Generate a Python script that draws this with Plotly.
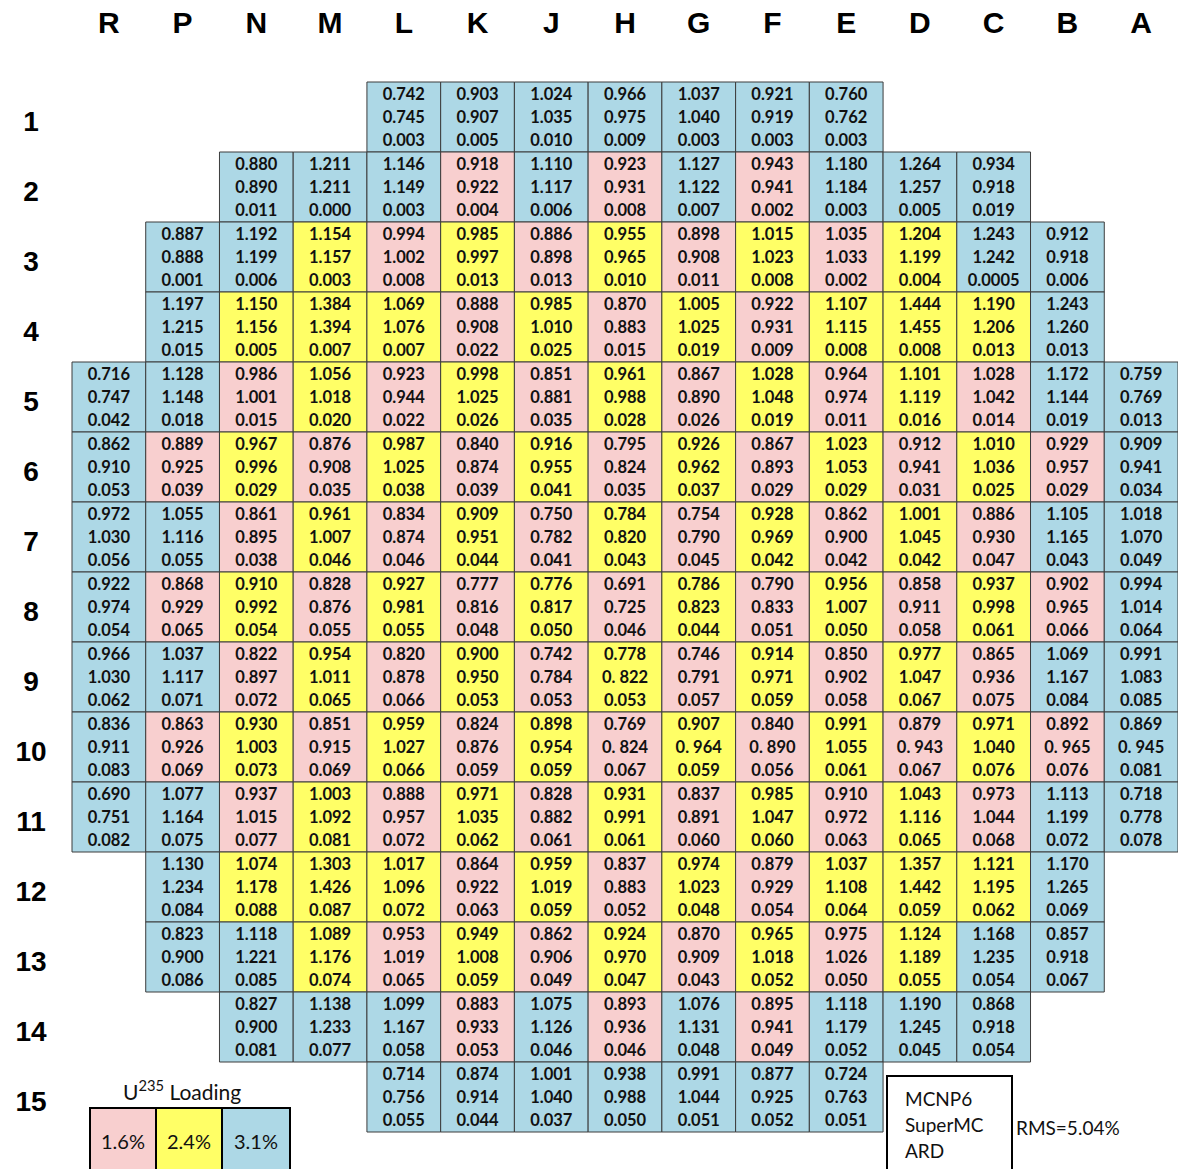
import plotly.graph_objects as go

COLUMNS = ["R", "P", "N", "M", "L", "K", "J", "H", "G", "F", "E", "D", "C", "B", "A"]
ROWS = list(range(1, 16))

N = None
# MCNP6 values per row (columns R..A)
MCNP6 = [
    [N, N, N, N, "0.742", "0.903", "1.024", "0.966", "1.037", "0.921", "0.760", N, N, N, N],
    [N, N, "0.880", "1.211", "1.146", "0.918", "1.110", "0.923", "1.127", "0.943", "1.180", "1.264", "0.934", N, N],
    [N, "0.887", "1.192", "1.154", "0.994", "0.985", "0.886", "0.955", "0.898", "1.015", "1.035", "1.204", "1.243", "0.912", N],
    [N, "1.197", "1.150", "1.384", "1.069", "0.888", "0.985", "0.870", "1.005", "0.922", "1.107", "1.444", "1.190", "1.243", N],
    ["0.716", "1.128", "0.986", "1.056", "0.923", "0.998", "0.851", "0.961", "0.867", "1.028", "0.964", "1.101", "1.028", "1.172", "0.759"],
    ["0.862", "0.889", "0.967", "0.876", "0.987", "0.840", "0.916", "0.795", "0.926", "0.867", "1.023", "0.912", "1.010", "0.929", "0.909"],
    ["0.972", "1.055", "0.861", "0.961", "0.834", "0.909", "0.750", "0.784", "0.754", "0.928", "0.862", "1.001", "0.886", "1.105", "1.018"],
    ["0.922", "0.868", "0.910", "0.828", "0.927", "0.777", "0.776", "0.691", "0.786", "0.790", "0.956", "0.858", "0.937", "0.902", "0.994"],
    ["0.966", "1.037", "0.822", "0.954", "0.820", "0.900", "0.742", "0.778", "0.746", "0.914", "0.850", "0.977", "0.865", "1.069", "0.991"],
    ["0.836", "0.863", "0.930", "0.851", "0.959", "0.824", "0.898", "0.769", "0.907", "0.840", "0.991", "0.879", "0.971", "0.892", "0.869"],
    ["0.690", "1.077", "0.937", "1.003", "0.888", "0.971", "0.828", "0.931", "0.837", "0.985", "0.910", "1.043", "0.973", "1.113", "0.718"],
    [N, "1.130", "1.074", "1.303", "1.017", "0.864", "0.959", "0.837", "0.974", "0.879", "1.037", "1.357", "1.121", "1.170", N],
    [N, "0.823", "1.118", "1.089", "0.953", "0.949", "0.862", "0.924", "0.870", "0.965", "0.975", "1.124", "1.168", "0.857", N],
    [N, N, "0.827", "1.138", "1.099", "0.883", "1.075", "0.893", "1.076", "0.895", "1.118", "1.190", "0.868", N, N],
    [N, N, N, N, "0.714", "0.874", "1.001", "0.938", "0.991", "0.877", "0.724", N, N, N, N],
]

# SuperMC values per row
SUPERMC = [
    [N, N, N, N, "0.745", "0.907", "1.035", "0.975", "1.040", "0.919", "0.762", N, N, N, N],
    [N, N, "0.890", "1.211", "1.149", "0.922", "1.117", "0.931", "1.122", "0.941", "1.184", "1.257", "0.918", N, N],
    [N, "0.888", "1.199", "1.157", "1.002", "0.997", "0.898", "0.965", "0.908", "1.023", "1.033", "1.199", "1.242", "0.918", N],
    [N, "1.215", "1.156", "1.394", "1.076", "0.908", "1.010", "0.883", "1.025", "0.931", "1.115", "1.455", "1.206", "1.260", N],
    ["0.747", "1.148", "1.001", "1.018", "0.944", "1.025", "0.881", "0.988", "0.890", "1.048", "0.974", "1.119", "1.042", "1.144", "0.769"],
    ["0.910", "0.925", "0.996", "0.908", "1.025", "0.874", "0.955", "0.824", "0.962", "0.893", "1.053", "0.941", "1.036", "0.957", "0.941"],
    ["1.030", "1.116", "0.895", "1.007", "0.874", "0.951", "0.782", "0.820", "0.790", "0.969", "0.900", "1.045", "0.930", "1.165", "1.070"],
    ["0.974", "0.929", "0.992", "0.876", "0.981", "0.816", "0.817", "0.725", "0.823", "0.833", "1.007", "0.911", "0.998", "0.965", "1.014"],
    ["1.030", "1.117", "0.897", "1.011", "0.878", "0.950", "0.784", "0. 822", "0.791", "0.971", "0.902", "1.047", "0.936", "1.167", "1.083"],
    ["0.911", "0.926", "1.003", "0.915", "1.027", "0.876", "0.954", "0. 824", "0. 964", "0. 890", "1.055", "0. 943", "1.040", "0. 965", "0. 945"],
    ["0.751", "1.164", "1.015", "1.092", "0.957", "1.035", "0.882", "0.991", "0.891", "1.047", "0.972", "1.116", "1.044", "1.199", "0.778"],
    [N, "1.234", "1.178", "1.426", "1.096", "0.922", "1.019", "0.883", "1.023", "0.929", "1.108", "1.442", "1.195", "1.265", N],
    [N, "0.900", "1.221", "1.176", "1.019", "1.008", "0.906", "0.970", "0.909", "1.018", "1.026", "1.189", "1.235", "0.918", N],
    [N, N, "0.900", "1.233", "1.167", "0.933", "1.126", "0.936", "1.131", "0.941", "1.179", "1.245", "0.918", N, N],
    [N, N, N, N, "0.756", "0.914", "1.040", "0.988", "1.044", "0.925", "0.763", N, N, N, N],
]

# ARD (relative difference) per row
ARD = [
    [N, N, N, N, "0.003", "0.005", "0.010", "0.009", "0.003", "0.003", "0.003", N, N, N, N],
    [N, N, "0.011", "0.000", "0.003", "0.004", "0.006", "0.008", "0.007", "0.002", "0.003", "0.005", "0.019", N, N],
    [N, "0.001", "0.006", "0.003", "0.008", "0.013", "0.013", "0.010", "0.011", "0.008", "0.002", "0.004", "0.0005", "0.006", N],
    [N, "0.015", "0.005", "0.007", "0.007", "0.022", "0.025", "0.015", "0.019", "0.009", "0.008", "0.008", "0.013", "0.013", N],
    ["0.042", "0.018", "0.015", "0.020", "0.022", "0.026", "0.035", "0.028", "0.026", "0.019", "0.011", "0.016", "0.014", "0.019", "0.013"],
    ["0.053", "0.039", "0.029", "0.035", "0.038", "0.039", "0.041", "0.035", "0.037", "0.029", "0.029", "0.031", "0.025", "0.029", "0.034"],
    ["0.056", "0.055", "0.038", "0.046", "0.046", "0.044", "0.041", "0.043", "0.045", "0.042", "0.042", "0.042", "0.047", "0.043", "0.049"],
    ["0.054", "0.065", "0.054", "0.055", "0.055", "0.048", "0.050", "0.046", "0.044", "0.051", "0.050", "0.058", "0.061", "0.066", "0.064"],
    ["0.062", "0.071", "0.072", "0.065", "0.066", "0.053", "0.053", "0.053", "0.057", "0.059", "0.058", "0.067", "0.075", "0.084", "0.085"],
    ["0.083", "0.069", "0.073", "0.069", "0.066", "0.059", "0.059", "0.067", "0.059", "0.056", "0.061", "0.067", "0.076", "0.076", "0.081"],
    ["0.082", "0.075", "0.077", "0.081", "0.072", "0.062", "0.061", "0.061", "0.060", "0.060", "0.063", "0.065", "0.068", "0.072", "0.078"],
    [N, "0.084", "0.088", "0.087", "0.072", "0.063", "0.059", "0.052", "0.048", "0.054", "0.064", "0.059", "0.062", "0.069", N],
    [N, "0.086", "0.085", "0.074", "0.065", "0.059", "0.049", "0.047", "0.043", "0.052", "0.050", "0.055", "0.054", "0.067", N],
    [N, N, "0.081", "0.077", "0.058", "0.053", "0.046", "0.046", "0.048", "0.049", "0.052", "0.045", "0.054", N, N],
    [N, N, N, N, "0.055", "0.044", "0.037", "0.050", "0.051", "0.052", "0.051", N, N, N, N],
]

# U-235 loading per row: p = 1.6%, y = 2.4%, b = 3.1%
LOADING = [
    "....bbbbbbb....",
    "..bbbpbpbpbbb..",
    ".bbypypypypybb.",
    ".byyypypypyyyb.",
    "bbpypypypypypbb",
    "bpypypypypypypb",
    "bbpypypypypypbb",
    "bpypypypypypypb",
    "bbpypypypypypbb",
    "bpypypypypypypb",
    "bbpypypypypypbb",
    ".byyypypypyyyb.",
    ".bbypypypypybb.",
    "..bbbpbpbpbbb..",
    "....bbbbbbb....",
]

LEGEND_LABELS = ["1.6%", "2.4%", "3.1%"]
CODE_NAMES = ["MCNP6", "SuperMC", "ARD"]
RMS_TEXT = "RMS=5.04%"

FILL = {"p": "#F8CFCF", "y": "#FFFF66", "b": "#ADD8E6"}
LEGEND_FILLS = [FILL["p"], FILL["y"], FILL["b"]]
CELL_FONT = "Lato, Open Sans, sans-serif"

W, H = 1178, 1169
# pixel geometry of grid (layout only)
X0, CW = 72.0, (1178 - 72.0) / 15
Y0, RH = 82.0, 70.0
xr = [(0 - X0) / CW - 0.5, (W - X0) / CW - 0.5]
yr = [(H - Y0) / RH + 0.5, (0 - Y0) / RH + 0.5]

fig = go.Figure()
shapes = []
tx, ty = {0: [], 1: [], 2: []}, {0: [], 1: [], 2: []}
tt = {0: [], 1: [], 2: []}
for ri, r in enumerate(ROWS):
    for ci, c in enumerate(COLUMNS):
        code = LOADING[ri][ci]
        if code == ".":
            continue
        shapes.append(dict(type="rect", xref="x", yref="y",
                           x0=ci - 0.5, x1=ci + 0.5, y0=r - 0.5, y1=r + 0.5,
                           fillcolor=FILL[code], line=dict(color="#3c3c3c", width=1),
                           layer="below"))
        for k, arr in enumerate([MCNP6, SUPERMC, ARD]):
            tx[k].append(ci)
            ty[k].append(r + 0.03 + (k - 1) * 0.33)
            tt[k].append(arr[ri][ci])

for k in range(3):
    fig.add_trace(go.Scatter(x=tx[k], y=ty[k], text=tt[k], mode="text",
                             textfont=dict(family=CELL_FONT, size=16.5, color="#111111", weight="bold"),
                             hoverinfo="skip", showlegend=False))

# column headers
fig.add_trace(go.Scatter(x=list(range(len(COLUMNS))), y=[(25 - Y0) / RH + 0.5] * len(COLUMNS),
                         text=COLUMNS, mode="text",
                         textfont=dict(family="Liberation Sans, Arial, sans-serif", size=30, color="#000000", weight="bold"),
                         hoverinfo="skip", showlegend=False))
# row labels
fig.add_trace(go.Scatter(x=[(31 - X0) / CW - 0.5] * len(ROWS), y=[r + 0.1 for r in ROWS],
                         text=[str(r) for r in ROWS], mode="text",
                         textfont=dict(family="Liberation Sans, Arial, sans-serif", size=28, color="#000000", weight="bold"),
                         hoverinfo="skip", showlegend=False))

def px(x):
    return x / W

def py(y):
    return 1 - y / H

annotations = []
# U235 loading legend
annotations.append(dict(xref="paper", yref="paper", x=px(182), y=py(1090), text="U<sup>235</sup> Loading",
                        showarrow=False, font=dict(family="Lato, Open Sans, sans-serif", size=21, color="#111111"),
                        xanchor="center", yanchor="middle"))
lx = [90, 156, 222, 290]
for i, lab in enumerate(LEGEND_LABELS):
    shapes.append(dict(type="rect", xref="paper", yref="paper", x0=px(lx[i]), x1=px(lx[i + 1]),
                       y0=py(1180), y1=py(1108), fillcolor=LEGEND_FILLS[i],
                       line=dict(color="#000000", width=2)))
    annotations.append(dict(xref="paper", yref="paper", x=px((lx[i] + lx[i + 1]) / 2), y=py(1141), text=lab,
                            showarrow=False, font=dict(family="Lato, Open Sans, sans-serif", size=20, color="#111111"),
                            xanchor="center", yanchor="middle"))

# code name box
shapes.append(dict(type="rect", xref="paper", yref="paper", x0=px(887), x1=px(1012),
                   y0=py(1180), y1=py(1076), fillcolor="rgba(0,0,0,0)", line=dict(color="#000000", width=2)))
for i, name in enumerate(CODE_NAMES):
    annotations.append(dict(xref="paper", yref="paper", x=px(903), y=py(1098 + 26 * i), text=name,
                            showarrow=False, font=dict(family="Lato, Open Sans, sans-serif", size=19, color="#111111"),
                            xanchor="left", yanchor="middle"))
annotations.append(dict(xref="paper", yref="paper", x=px(1014), y=py(1127), text=RMS_TEXT,
                        showarrow=False, font=dict(family="Lato, Open Sans, sans-serif", size=19, color="#111111"),
                        xanchor="left", yanchor="middle"))

fig.update_layout(
    width=W, height=H, autosize=False,
    margin=dict(l=0, r=0, t=0, b=0),
    paper_bgcolor="white", plot_bgcolor="white",
    xaxis=dict(range=xr, visible=False, fixedrange=True),
    yaxis=dict(range=yr, visible=False, fixedrange=True),
    shapes=shapes, annotations=annotations,
)

fig.write_html("out.html", config={"displayModeBar": False},
               post_script="document.body.style.margin='0';")
